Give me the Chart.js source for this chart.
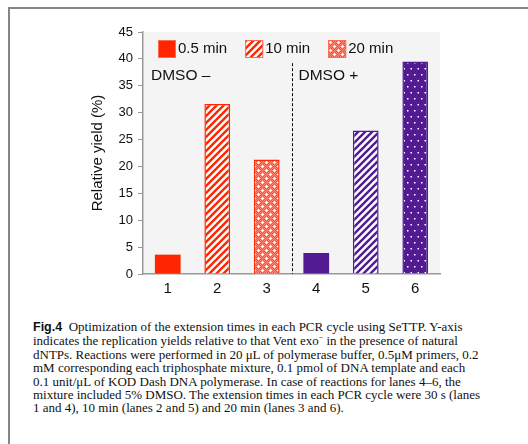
<!DOCTYPE html>
<html>
<head>
<meta charset="utf-8">
<script src="https://cdn.jsdelivr.net/npm/chart.js@4.4.1/dist/chart.umd.min.js"></script>
<style>
  body { margin: 0; background: #fff; width: 528px; height: 444px; overflow: hidden; position: relative; }
  #frame { position: absolute; left: 8px; top: 7px; width: 520px; height: 437px;
           border-top: 2px solid #858585; border-left: 2px solid #858585; }
  #chart { position: absolute; left: 0; top: 0; }
  #cap { position: absolute; left: 33px; top: 320px; font-family: "Liberation Serif", "Times New Roman", serif;
         font-size: 13px; line-height: 13.4px; color: #111; white-space: nowrap; }
  #cap b { font-family: "Liberation Sans", Arial, sans-serif; font-size: 12.5px; }
  #cap sup { font-size: 8px; line-height: 0; }
</style>
</head>
<body>
<div id="frame"></div>
<canvas id="chart" width="528" height="300"></canvas>
<div id="cap">
<b>Fig.4</b>&nbsp; Optimization of the extension times in each PCR cycle using SeTTP. Y-axis<br>
indicates the replication yields relative to that Vent exo<sup>−</sup> in the presence of natural<br>
dNTPs. Reactions were performed in 20 μL of polymerase buffer, 0.5μM primers, 0.2<br>
mM corresponding each triphosphate mixture, 0.1 pmol of DNA template and each<br>
0.1 unit/μL of KOD Dash DNA polymerase. In case of reactions for lanes 4–6, the<br>
mixture included 5% DMSO. The extension times in each PCR cycle were 30 s (lanes<br>
1 and 4), 10 min (lanes 2 and 5) and 20 min (lanes 3 and 6).
</div>
<script>
// lanes 1-3 without DMSO, lanes 4-6 with DMSO
const lanes = ['1', '2', '3', '4', '5', '6'];
const times = ['0.5 min', '10 min', '20 min'];
const yieldNoDmso = [3.6, 31.6, 21.3];
const yieldDmso = [3.9, 26.7, 39.5];
const groupLabels = ['DMSO \u2013', 'DMSO +'];
const yTicks = [0, 5, 10, 15, 20, 25, 30, 35, 40, 45];
const dividerTop = 39.2;

const RED = '#ff2600';
const PURPLE = '#521b93';

function makeTile(w, h, draw) {
    const c = document.createElement('canvas');
    c.width = w; c.height = h;
    draw(c.getContext('2d'), w, h);
    return c.getContext('2d').createPattern(c, 'repeat');
}

function stripes(color) {
    return makeTile(7, 7, (g, w, h) => {
        g.fillStyle = '#fff';
        g.fillRect(0, 0, w, h);
        g.strokeStyle = color;
        g.lineWidth = 2.4;
        g.beginPath();
        g.moveTo(-1, h + 1); g.lineTo(w + 1, -1);
        g.moveTo(-2, 2); g.lineTo(2, -2);
        g.moveTo(w - 2, h + 2); g.lineTo(w + 2, h - 2);
        g.stroke();
    });
}

const redFine = makeTile(8, 8, (g, w, h) => {
    g.fillStyle = '#ff4a30';
    g.fillRect(0, 0, w, h);
    g.fillStyle = '#ff8c7a';
    for (let x = 0; x < w; x++) {
        for (let y = 0; y < h; y++) {
            if ((x + y) % 2 === 0) g.fillRect(x, y, 1, 1);
        }
    }
    g.fillStyle = '#fff';
    [[2, 2], [6, 6]].forEach(([cx, cy]) => {
        g.fillRect(cx - 1, cy, 3, 1);
        g.fillRect(cx, cy - 1, 1, 3);
    });
});

const purpleDots = makeTile(7, 12, (g, w, h) => {
    g.fillStyle = PURPLE;
    g.fillRect(0, 0, w, h);
    g.fillStyle = '#fff';
    g.fillRect(1, 2, 1.5, 1.5);
    g.fillRect(4.5, 8, 1.5, 1.5);
});

const redFills = [RED, stripes(RED), redFine];
const purpleFills = [PURPLE, stripes(PURPLE), purpleDots];

// one dataset per extension time, one bar in each DMSO group
const datasets = times.map((t, i) => {
    const data = lanes.map(() => null);
    data[i] = yieldNoDmso[i];
    data[i + 3] = yieldDmso[i];
    return {
        label: t,
        data: data,
        grouped: false,
        barPercentage: 0.52,
        categoryPercentage: 1,
        backgroundColor: ctx => ctx.dataIndex < 3 ? redFills[i] : purpleFills[i],
        borderColor: ctx => ctx.dataIndex < 3 ? RED : PURPLE,
        borderWidth: i === 0 ? 0 : 1.5
    };
});

const decorations = {
    id: 'decorations',
    beforeDraw(chart) {
        const { ctx, chartArea: a } = chart;
        ctx.save();
        ctx.fillStyle = '#f4f4f4';
        ctx.fillRect(a.left, a.top, a.width, a.height);
        ctx.restore();
    },
    beforeDatasetsDraw(chart) {
        const { ctx, chartArea: a, scales } = chart;
        const xDiv = (scales.x.getPixelForValue(2) + scales.x.getPixelForValue(3)) / 2;
        ctx.save();
        ctx.strokeStyle = '#000';
        ctx.lineWidth = 1;
        ctx.setLineDash([3, 2]);
        ctx.beginPath();
        ctx.moveTo(Math.round(xDiv) + 0.5, scales.y.getPixelForValue(dividerTop));
        ctx.lineTo(Math.round(xDiv) + 0.5, a.bottom);
        ctx.stroke();
        ctx.setLineDash([]);
        ctx.fillStyle = '#111';
        ctx.font = '15.5px "Liberation Sans", Arial, sans-serif';
        ctx.textBaseline = 'middle';
        ctx.fillText(groupLabels[0], a.left + 8, a.top + 44);
        ctx.fillText(groupLabels[1], xDiv + 7, a.top + 44);
        ctx.restore();
    },
    afterDraw(chart) {
        // legend drawn inside the plot area, as in the figure
        const { ctx, chartArea: a } = chart;
        ctx.save();
        ctx.font = '15px "Liberation Sans", Arial, sans-serif';
        ctx.textBaseline = 'middle';
        let x = a.left + 15;
        const top = a.top + 8;
        times.forEach((t, i) => {
            ctx.fillStyle = redFills[i];
            ctx.fillRect(x, top, 18, 18);
            ctx.strokeStyle = '#ff6a50';
            ctx.lineWidth = 1;
            ctx.strokeRect(x + 0.5, top + 0.5, 17, 17);
            ctx.fillStyle = '#111';
            ctx.fillText(t, x + 20, top + 9);
            x += 20 + ctx.measureText(t).width + 18;
        });
        ctx.restore();
    }
};

new Chart(document.getElementById('chart'), {
    type: 'bar',
    data: { labels: lanes, datasets: datasets },
    options: {
        responsive: false,
        animation: false,
        devicePixelRatio: 1,
        layout: { padding: { left: 85, right: 88, top: 32, bottom: 0 } },
        plugins: {
            legend: { display: false },
            tooltip: { enabled: false }
        },
        scales: {
            x: {
                afterFit: s => { s.height = 26; },
                grid: { display: true, drawOnChartArea: false, drawTicks: false },
                border: { display: true, color: '#999', width: 1.5 },
                ticks: { padding: 6, color: '#111', font: { family: '"Liberation Sans", Arial, sans-serif', size: 15 } }
            },
            y: {
                min: 0,
                max: 45,
                afterFit: s => { s.width = 58; },
                afterBuildTicks: s => { s.ticks = yTicks.map(v => ({ value: v })); },
                grid: { drawOnChartArea: false, drawTicks: true, tickLength: 5, color: '#999' },
                border: { display: true, color: '#999', width: 1.5 },
                ticks: { padding: 5, color: '#111', font: { family: '"Liberation Sans", Arial, sans-serif', size: 13 } },
                title: {
                    display: true,
                    text: 'Relative yield (%)',
                    color: '#111',
                    padding: { top: 4, bottom: 4 },
                    font: { family: '"Liberation Sans", Arial, sans-serif', size: 15 }
                }
            }
        }
    },
    plugins: [decorations]
});
</script>
</body>
</html>
